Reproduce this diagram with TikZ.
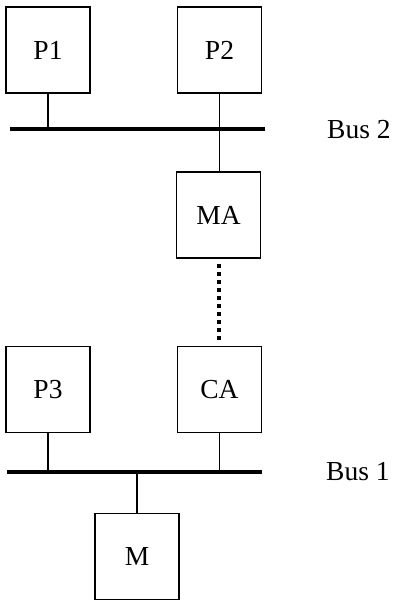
\documentclass[tikz,border=0pt]{standalone}
\usepackage{fontspec}
\setmainfont{Liberation Serif}
\begin{document}
\begin{tikzpicture}[x=1pt,y=-1pt,
  unit/.style={draw, line width=1.8pt, minimum width=84pt, minimum height=86pt, inner sep=0pt, font=\fontsize{27.5}{31}\selectfont},
  busline/.style={line width=4.5pt},
  link/.style={line width=1.8pt},
  buslabel/.style={anchor=west, inner sep=0pt, font=\fontsize{27.5}{31}\selectfont},
  remote/.style={line width=4pt, dash pattern=on 4pt off 4pt}]
\useasboundingbox (0,0) rectangle (395,603);
\node[unit] (P1) at (48,50) {P1};
\node[unit] (P2) at (219.5,50) {P2};
\node[unit] (MA) at (218.5,215) {MA};
\node[unit] (CA) at (219.5,389.5) {CA};
\node[unit] (P3) at (48,389.5) {P3};
\node[unit] (M) at (137,556.5) {M};
\coordinate (b2l) at (10,129);
\coordinate (b2r) at (265,129);
\coordinate (b1l) at (7,472);
\coordinate (b1r) at (262,472);
\draw[busline] (b2l) -- (b2r);
\draw[busline] (b1l) -- (b1r);
\node[buslabel] (L2) at (327,130) {Bus 2};
\node[buslabel] (L1) at (326,472) {Bus 1};
\draw[link] (P1.south) -- (P1.south |- b2l);
\draw[link] (P2.south) -- (P2.south |- MA.north);
\draw[link] (P3.south) -- (P3.south |- b1l);
\draw[link] (CA.south) -- (CA.south |- b1l);
\draw[link] (M.north) -- (M.north |- b1l);
\draw[remote] ([yshift=-5pt]MA.south) -- ([yshift=2pt]MA.south |- CA.north);
\end{tikzpicture}
\end{document}
